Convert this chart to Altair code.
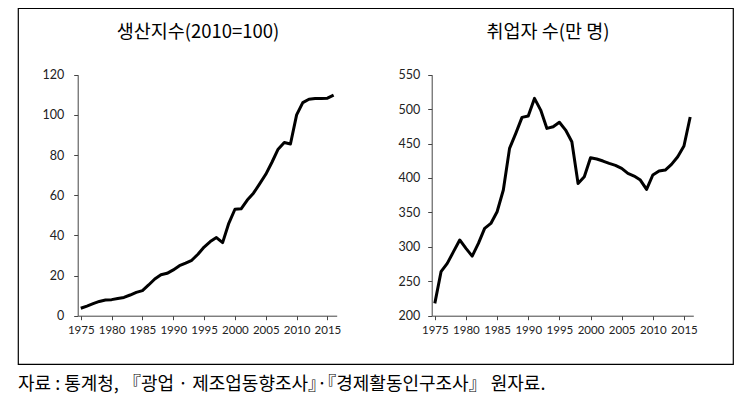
import altair as alt
import pandas as pd

years = list(range(1975, 2017))
production = [3.7, 4.8, 6.0, 7.1, 7.8, 8.0, 8.6, 9.1, 10.3, 11.6, 12.5, 15.3, 18.3, 20.4, 21.1,
              22.8, 24.9, 26.2, 27.6, 30.6, 34.2, 36.9, 38.9, 36.4, 46.0, 53.0, 53.2, 57.6, 61.0,
              65.6, 70.4, 76.4, 82.9, 86.2, 85.5, 100.0, 106.1, 107.8, 108.1, 108.1, 108.3, 109.8]
employment = [217.9, 263.9, 276, 293, 310, 297.8, 286.6, 305, 326.8, 334, 351, 382.5, 443, 464.8,
              488, 490, 515.6, 498.6, 472, 474.4, 481, 469.6, 452.7, 392, 401.8, 429.4, 427.5,
              424.6, 421.2, 418.3, 414, 406.7, 402.8, 397, 383.4, 404.3, 410, 411.5, 419.7, 430.9,
              446.4, 488.6]
x_ticks = [1975, 1980, 1985, 1990, 1995, 2000, 2005, 2010, 2015]
left_ticks = [0, 20, 40, 60, 80, 100, 120]
right_ticks = [200, 250, 300, 350, 400, 450, 500, 550]
left_title = "생산지수(2010=100)"
right_title = "취업자 수(만 명)"
footer = "자료 : 통계청, 『광업 · 제조업동향조사』·『경제활동인구조사』 원자료."

df = pd.DataFrame({"year": years, "prod": production, "emp": employment})

W, H = 715, 356
AXIS_Y = 307.7
TOP_Y = 66.7
LBL_FONT = "Lato"
axis_common = dict(
    orient="bottom", tickSize=4, labelFont=LBL_FONT, labelFontSize=11.5,
    labelColor="#222222", domainColor="#444444", tickColor="#444444",
    grid=False, labelPadding=5, labelOverlap=False, format="d", title=None,
)
y_common = dict(
    orient="left", tickSize=4, labelFont=LBL_FONT, labelFontSize=12.5,
    labelColor="#222222", domainColor="#444444", tickColor="#444444",
    grid=False, title=None,
)

left = alt.Chart(df).mark_line(color="black", strokeWidth=3, strokeJoin="round").encode(
    x=alt.X("year:Q", scale=alt.Scale(domain=[1974.5, 2016.5], range=[59.7, 318.7], nice=False),
            axis=alt.Axis(values=x_ticks, offset=-(H - AXIS_Y), **axis_common)),
    y=alt.Y("prod:Q", scale=alt.Scale(domain=[0, 120], range=[AXIS_Y, TOP_Y], nice=False, zero=False),
            axis=alt.Axis(values=left_ticks, offset=-59.7, labelPadding=10, **y_common)),
)

right = alt.Chart(df).mark_line(color="black", strokeWidth=3, strokeJoin="round").encode(
    x=alt.X("year:Q", scale=alt.Scale(domain=[1974.5, 2016.5], range=[413.7, 675.3], nice=False),
            axis=alt.Axis(values=x_ticks, offset=-(H - AXIS_Y), **axis_common)),
    y=alt.Y("emp:Q", scale=alt.Scale(domain=[200, 550], range=[AXIS_Y, TOP_Y], nice=False, zero=False),
            axis=alt.Axis(values=right_ticks, offset=-413.7, labelPadding=8, **y_common)),
)

t_left = alt.Chart(pd.DataFrame({"t": [left_title]})).mark_text(
    font="Noto Sans CJK KR", fontSize=18.5, color="black", align="center", baseline="middle"
).encode(text="t:N", x=alt.value(180), y=alt.value(24))
t_right = alt.Chart(pd.DataFrame({"t": [right_title]})).mark_text(
    font="Noto Sans CJK KR", fontSize=18.5, color="black", align="center", baseline="middle"
).encode(text="t:N", x=alt.value(530), y=alt.value(24))
t_foot = alt.Chart(pd.DataFrame({"t": [footer]})).mark_text(
    font="Noto Sans CJK KR", fontSize=18, color="black", align="left", baseline="middle"
).encode(text="t:N", x=alt.value(0), y=alt.value(H + 21))

chart = alt.layer(left, right, t_left, t_right, t_foot).resolve_scale(
    x="independent", y="independent"
).resolve_axis(
    x="independent", y="independent"
).properties(
    width=W, height=H,
    padding={"left": 10, "top": 0, "right": 5, "bottom": 36},
    autosize=alt.AutoSizeParams(type="none"),
    background="white",
).configure_view(stroke="black", strokeWidth=1.2)

chart.save("out.html", embed_options={"renderer": "svg", "actions": False})
